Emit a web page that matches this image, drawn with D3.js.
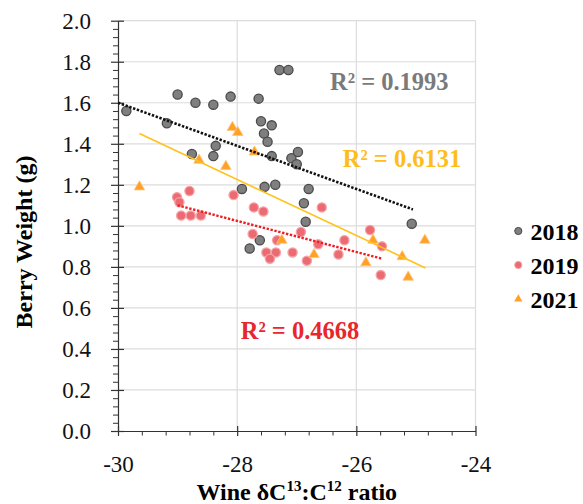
<!DOCTYPE html>
<html>
<head>
<meta charset="utf-8">
<script src="https://cdn.jsdelivr.net/npm/d3@7"></script>
<style>
  html, body { margin: 0; padding: 0; background: #fff; }
  svg { display: block; }
  svg text { font-family: "Liberation Serif", "DejaVu Serif", serif; }
</style>
</head>
<body>
<div id="chart"></div>
<script>
// ---- data ----
const years = ["2018", "2019", "2021"];

const x2018 = [-29.86, -29.00, -28.70, -28.40, -28.11, -27.64, -27.29, -27.14, -29.18, -27.60,
               -27.42, -27.55, -27.49, -28.36, -28.76, -28.40, -27.42, -27.09, -26.98, -27.00,
               -27.92, -27.54, -27.36, -27.62, -27.79, -26.80, -26.88, -26.85, -25.07];
const y2018 = [1.56, 1.64, 1.60, 1.59, 1.63, 1.62, 1.76, 1.76, 1.50, 1.51,
               1.49, 1.45, 1.41, 1.39, 1.35, 1.34, 1.34, 1.33, 1.36, 1.30,
               1.18, 1.19, 1.20, 0.93, 0.89, 1.18, 1.11, 1.02, 1.01];

const x2019 = [-29.01, -28.97, -28.80, -28.94, -28.78, -28.61, -28.06, -27.72, -27.56, -27.74,
               -27.33, -27.51, -27.35, -27.45, -27.07, -26.58, -26.93, -26.64, -26.20, -26.83,
               -26.30, -25.77, -25.57, -25.59];
const y2019 = [1.14, 1.115, 1.17, 1.05, 1.05, 1.05, 1.15, 1.09, 1.07, 0.96,
               0.93, 0.87, 0.87, 0.84, 0.87, 1.09, 0.97, 0.91, 0.93, 0.83,
               0.86, 0.98, 0.90, 0.76];

const x2021 = [-28.08, -27.99, -27.71, -28.64, -28.19, -29.64, -27.25, -26.71, -25.72, -25.84,
               -25.23, -25.13, -24.85];
const y2021 = [1.48, 1.455, 1.36, 1.32, 1.29, 1.19, 0.93, 0.86, 0.93, 0.82,
               0.85, 0.75, 0.93];

// trend line end points [x0, y0, x1, y1]
const trend2018 = [-30.0, 1.60, -25.05, 1.08];
const trend2019 = [-29.0, 1.10, -25.57, 0.84];
const trend2021 = [-29.64, 1.45, -24.84, 0.795];

const r2Labels = ["R² = 0.1993", "R² = 0.4668", "R² = 0.6131"];

const xMajor = [-30, -28, -26, -24];
const yMajor = [0, 0.2, 0.4, 0.6, 0.8, 1.0, 1.2, 1.4, 1.6, 1.8, 2.0];

// ---- layout ----
const W = 583, H = 504;
const plotLeft = 118, plotRight = 475.5, plotTop = 20.7, plotBottom = 431;

const x = d3.scaleLinear().domain([-30, -24]).range([plotLeft, plotRight]);
const y = d3.scaleLinear().domain([0, 2]).range([plotBottom, plotTop]);

const svg = d3.select("#chart").append("svg")
    .attr("width", W)
    .attr("height", H);

// gridlines
const grid = svg.append("g").attr("stroke", "#dcdcdc").attr("stroke-width", 1.2);
xMajor.slice(1).forEach(v => {
    grid.append("line")
        .attr("x1", x(v)).attr("x2", x(v))
        .attr("y1", plotTop).attr("y2", plotBottom);
});
yMajor.slice(1).forEach(v => {
    grid.append("line")
        .attr("x1", plotLeft).attr("x2", plotRight)
        .attr("y1", y(v)).attr("y2", y(v));
});

// minor ticks (outside only)
const xMinor = d3.range(-30, -24.001, 0.4).filter(v => !xMajor.some(m => Math.abs(m - v) < 1e-6));
const yMinor = d3.range(0, 2.001, 0.04).filter(v => !yMajor.some(m => Math.abs(m - v) < 1e-6));

svg.append("g")
    .attr("transform", `translate(0,${plotBottom})`)
    .call(d3.axisBottom(x).tickValues(xMinor).tickSize(4.5).tickFormat(""))
    .call(g => g.select(".domain").remove())
    .selectAll("line").attr("stroke", "#333");

svg.append("g")
    .attr("transform", `translate(${plotLeft},0)`)
    .call(d3.axisLeft(y).tickValues(yMinor).tickSize(5).tickFormat(""))
    .call(g => g.select(".domain").remove())
    .selectAll("line").attr("stroke", "#333");

// major axes, ticks cross the axis line
const xAxis = svg.append("g")
    .attr("transform", `translate(0,${plotBottom})`)
    .call(d3.axisBottom(x).tickValues(xMajor).tickSizeOuter(0).tickPadding(19));
xAxis.select(".domain").attr("stroke", "#333").attr("stroke-width", 1.2);
xAxis.selectAll(".tick line").attr("y1", -5).attr("y2", 5).attr("stroke", "#333").attr("stroke-width", 1.2);
xAxis.selectAll(".tick text")
    .attr("font-size", 23).attr("fill", "#111")
    .text(d => String(d));

const yAxis = svg.append("g")
    .attr("transform", `translate(${plotLeft},0)`)
    .call(d3.axisLeft(y).tickValues(yMajor).tickSizeOuter(0).tickPadding(21).tickFormat(d3.format(".1f")));
yAxis.select(".domain").attr("stroke", "#333").attr("stroke-width", 1.2);
yAxis.selectAll(".tick line").attr("x1", -7).attr("x2", 6).attr("stroke", "#333").attr("stroke-width", 1.2);
yAxis.selectAll(".tick text")
    .attr("font-size", 23).attr("fill", "#111");

// axis titles
const xTitle = svg.append("text")
    .attr("x", (plotLeft + plotRight) / 2)
    .attr("y", 500)
    .attr("text-anchor", "middle")
    .attr("font-size", 24)
    .attr("font-weight", "bold")
    .attr("fill", "#000");
xTitle.append("tspan").text("Wine δC");
xTitle.append("tspan").attr("font-size", 15).attr("dy", -9).text("13");
xTitle.append("tspan").attr("dy", 9).text(":C");
xTitle.append("tspan").attr("font-size", 15).attr("dy", -9).text("12");
xTitle.append("tspan").attr("dy", 9).text(" ratio");

svg.append("text")
    .attr("transform", "translate(32,242) rotate(-90)")
    .attr("text-anchor", "middle")
    .attr("font-size", 24)
    .attr("font-weight", "bold")
    .attr("fill", "#000")
    .text("Berry Weight (g)");

// trend lines
const trendLine = (t, color, width, dash) => {
    svg.append("line")
        .attr("x1", x(t[0])).attr("y1", y(t[1]))
        .attr("x2", x(t[2])).attr("y2", y(t[3]))
        .attr("stroke", color)
        .attr("stroke-width", width)
        .attr("stroke-dasharray", dash);
};

// markers
const triangle = d3.symbol().type(d3.symbolTriangle);

const drawCircles = (xs, ys, fill, stroke, r) => {
    svg.append("g").selectAll("circle")
        .data(xs.map((v, i) => [v, ys[i]]))
        .join("circle")
        .attr("cx", d => x(d[0]))
        .attr("cy", d => y(d[1]))
        .attr("r", r)
        .attr("fill", fill)
        .attr("stroke", stroke)
        .attr("stroke-width", 1.3);
};

drawCircles(x2018, y2018, "#7f7f7f", "#4a4a4a", 4.6);
drawCircles(x2019, y2019, "#ec6b72", "#f6a3a7", 4.6);

svg.append("g").selectAll("path")
    .data(x2021.map((v, i) => [v, y2021[i]]))
    .join("path")
    .attr("d", triangle.size(48))
    .attr("transform", d => `translate(${x(d[0])},${y(d[1])})`)
    .attr("fill", "#ffa126")
    .attr("stroke", "#ffc47a")
    .attr("stroke-width", 0.8);

trendLine(trend2021, "#ffc21a", 1.6, null);
trendLine(trend2019, "#f01e23", 2.4, "2.4,1.6");
trendLine(trend2018, "#111", 2.6, "2.4,1.6");

// R² annotations
const r2 = [
    { text: r2Labels[0], x: 330, y: 90, color: "#7a7a7a" },
    { text: r2Labels[1], x: 240.7, y: 339, color: "#e8262c" },
    { text: r2Labels[2], x: 342.7, y: 167, color: "#ffbd1a" }
];
r2.forEach(d => {
    svg.append("text")
        .attr("x", d.x).attr("y", d.y)
        .attr("font-size", 24.5)
        .attr("font-weight", "bold")
        .attr("fill", d.color)
        .text(d.text);
});

// legend
const legendY = [231, 265, 299];
const legend = svg.append("g");
years.forEach((yr, i) => {
    const cy = legendY[i];
    if (i < 2) {
        legend.append("circle")
            .attr("cx", 518.3).attr("cy", cy)
            .attr("r", 3.6)
            .attr("fill", i === 0 ? "#7f7f7f" : "#ec6b72")
            .attr("stroke", i === 0 ? "#4a4a4a" : "#f6a3a7")
            .attr("stroke-width", 1);
    } else {
        legend.append("path")
            .attr("d", d3.symbol().type(d3.symbolTriangle).size(30)())
            .attr("transform", `translate(518.3,${cy})`)
            .attr("fill", "#ffa126");
    }
    legend.append("text")
        .attr("x", 530.5).attr("y", cy + 8.5)
        .attr("font-size", 24)
        .attr("font-weight", "bold")
        .attr("fill", "#000")
        .text(yr);
});
</script>
</body>
</html>
